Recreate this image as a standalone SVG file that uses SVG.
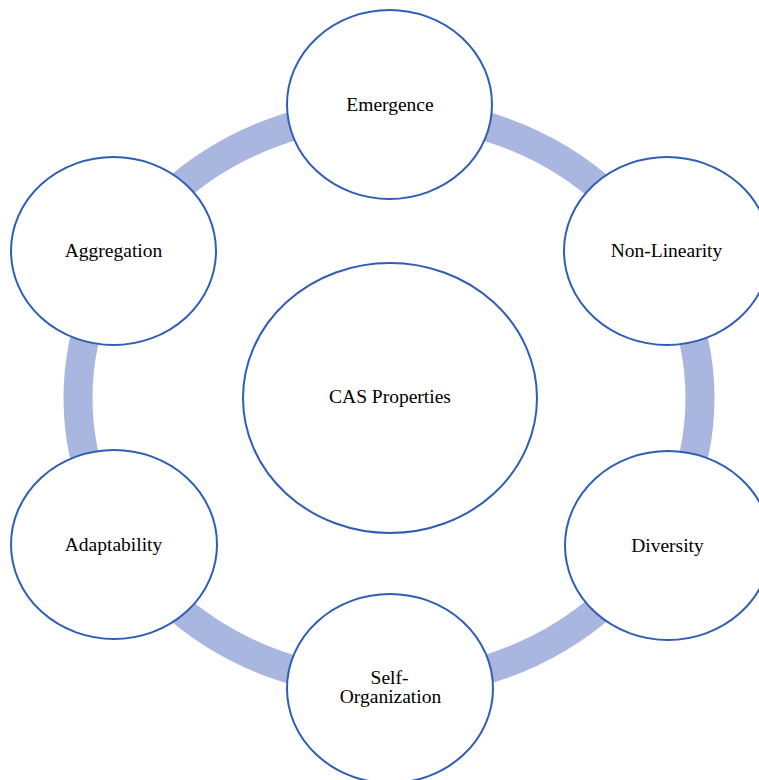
<svg xmlns="http://www.w3.org/2000/svg" width="759" height="780" viewBox="0 0 759 780">
  <style>
    .node { fill: #FFFFFF; stroke: #2F5EB4; stroke-width: 2; }
    .label { font-family: "Liberation Serif", "Times New Roman", serif; font-size: 19.5px; fill: #000000; text-anchor: middle; }
    .ring { fill: none; stroke: #A9B6DF; stroke-width: 29; }
  </style>
  <rect width="759" height="780" fill="#FFFFFF"/>
  <g id="connectors">
    <ellipse class="ring" cx="389" cy="398" rx="311" ry="286"/>
  </g>
  <g id="node-center">
    <ellipse class="node" cx="390" cy="398" rx="147" ry="135"/>
    <text class="label" x="390" y="403">CAS Properties</text>
  </g>
  <g id="node-emergence">
    <ellipse class="node" cx="389.5" cy="104.5" rx="102.5" ry="94.5"/>
    <text class="label" x="390" y="111">Emergence</text>
  </g>
  <g id="node-nonlinearity">
    <ellipse class="node" cx="667" cy="251" rx="103" ry="94"/>
    <text class="label" x="666.5" y="257">Non-Linearity</text>
  </g>
  <g id="node-diversity">
    <ellipse class="node" cx="668" cy="545.5" rx="103" ry="94.5"/>
    <text class="label" x="667.5" y="552">Diversity</text>
  </g>
  <g id="node-selforganization">
    <ellipse class="node" cx="390" cy="688.5" rx="103" ry="94.5"/>
    <text class="label" x="389.5" y="684">Self-</text>
    <text class="label" x="390.5" y="703">Organization</text>
  </g>
  <g id="node-adaptability">
    <ellipse class="node" cx="114" cy="544.5" rx="103" ry="94.5"/>
    <text class="label" x="113.5" y="551">Adaptability</text>
  </g>
  <g id="node-aggregation">
    <ellipse class="node" cx="113.5" cy="251" rx="102.5" ry="94"/>
    <text class="label" x="113.5" y="257">Aggregation</text>
  </g>
</svg>
